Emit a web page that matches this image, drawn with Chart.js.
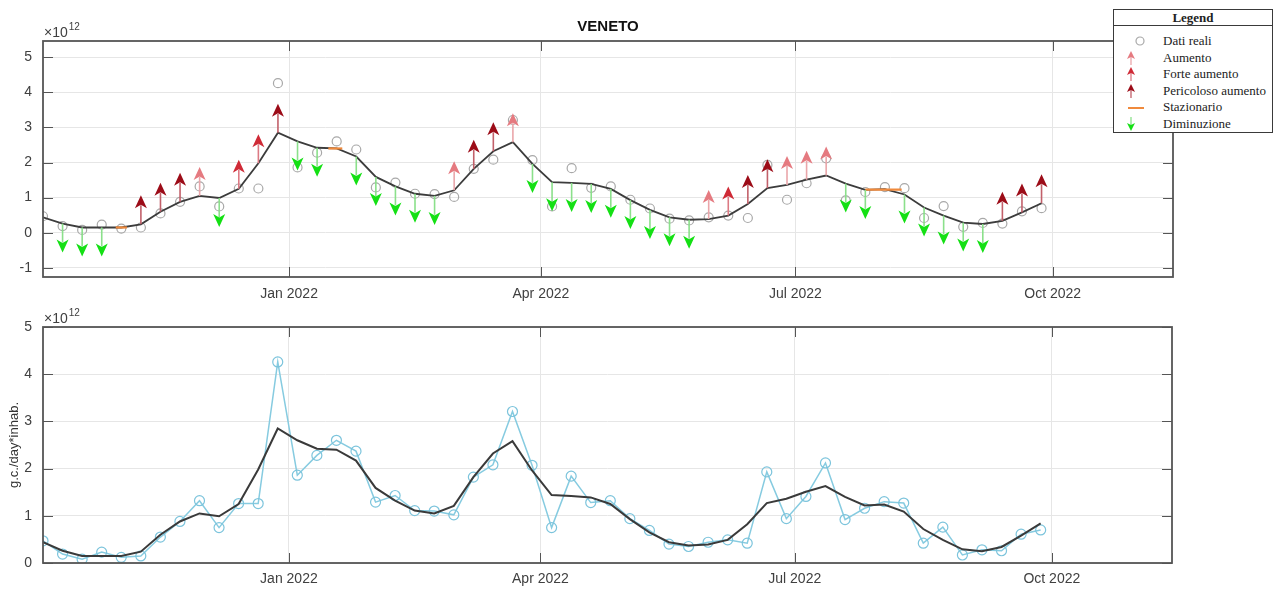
<!DOCTYPE html>
<html>
<head>
<meta charset="utf-8">
<script src="https://cdn.jsdelivr.net/npm/chart.js@4.4.0/dist/chart.umd.min.js"></script>
<style>
  html, body { margin: 0; padding: 0; background: #fff; }
  body { width: 1281px; height: 589px; position: relative; overflow: hidden; }
  #topChart { position: absolute; left: 0; top: 0; }
  #bottomChart { position: absolute; left: 0; top: 305px; }
  #legend {
    position: absolute; left: 1113px; top: 9px; width: 160px; height: 124px;
    box-sizing: border-box; border: 1.5px solid #3a3a3a; background: #fff;
    font-family: "Liberation Serif", "Times New Roman", serif; font-size: 13px; color: #222;
  }
  #legend .head { height: 15px; line-height: 16px; text-align: center; font-weight: bold; border-bottom: 1px solid #3a3a3a; }
  #legend .row { position: absolute; left: 0; height: 16px; line-height: 16px; width: 100%; }
  #legend .row svg { position: absolute; left: 8px; top: 0; }
  #legend .row span { position: absolute; left: 49px; white-space: nowrap; }
</style>
</head>
<body>
<canvas id="topChart" width="1281" height="305"></canvas>
<canvas id="bottomChart" width="1281" height="284"></canvas>
<div id="legend"></div>
<script>
// weekly sampling dates
const weekDates = [
  "2021-10-05", "2021-10-12", "2021-10-19", "2021-10-26", "2021-11-02", "2021-11-09",
  "2021-11-16", "2021-11-23", "2021-11-30", "2021-12-07", "2021-12-14", "2021-12-21",
  "2021-12-28", "2022-01-04", "2022-01-11", "2022-01-18", "2022-01-25", "2022-02-01",
  "2022-02-08", "2022-02-15", "2022-02-22", "2022-03-01", "2022-03-08", "2022-03-15",
  "2022-03-22", "2022-03-29", "2022-04-05", "2022-04-12", "2022-04-19", "2022-04-26",
  "2022-05-03", "2022-05-10", "2022-05-17", "2022-05-24", "2022-05-31", "2022-06-07",
  "2022-06-14", "2022-06-21", "2022-06-28", "2022-07-05", "2022-07-12", "2022-07-19",
  "2022-07-26", "2022-08-02", "2022-08-09", "2022-08-16", "2022-08-23", "2022-08-30",
  "2022-09-06", "2022-09-13", "2022-09-20", "2022-09-27"
];

// measured values (x 10^12 g.c./day*inhab.)
const realValues = [
  0.47, 0.19, 0.08, 0.23, 0.12, 0.15, 0.55, 0.88, 1.32, 0.75, 1.26, 1.26,
  4.26, 1.86, 2.28, 2.60, 2.37, 1.29, 1.43, 1.11, 1.10, 1.02, 1.82, 2.08,
  3.21, 2.07, 0.75, 1.84, 1.28, 1.32, 0.94, 0.69, 0.40, 0.35, 0.44, 0.49,
  0.42, 1.93, 0.94, 1.41, 2.12, 0.92, 1.16, 1.30, 1.27, 0.42, 0.76, 0.17,
  0.28, 0.26, 0.61, 0.70
];

// smoothed trend (x 10^12)
const trendValues = [
  0.44, 0.26, 0.15, 0.15, 0.15, 0.24, 0.60, 0.88, 1.05, 0.99, 1.25, 1.98,
  2.85, 2.60, 2.42, 2.40, 2.17, 1.59, 1.32, 1.11, 1.05, 1.21, 1.82, 2.32,
  2.58, 1.96, 1.44, 1.42, 1.39, 1.25, 0.93, 0.65, 0.44, 0.37, 0.39, 0.49,
  0.82, 1.27, 1.36, 1.51, 1.63, 1.40, 1.22, 1.24, 1.09, 0.72, 0.49, 0.29,
  0.25, 0.34, 0.58, 0.84
];

// trend class: D diminuzione, S stazionario, A aumento, F forte aumento, P pericoloso aumento
const trendStatus = [
  "",  "D", "D", "D", "S", "P", "P", "P", "A", "D", "F", "F",
  "P", "D", "D", "S", "D", "D", "D", "D", "D", "A", "P", "P",
  "A", "D", "D", "D", "D", "D", "D", "D", "D", "D", "A", "F",
  "P", "P", "A", "A", "A", "D", "D", "S", "D", "D", "D", "D",
  "D", "P", "P", "P"
];

const stationaryFrom = ["2021-10-31", "2022-01-15", "2022-07-26"];
const stationaryTo = ["2021-11-04", "2022-01-20", "2022-08-08"];
const stationaryLevel = [0.15, 2.40, 1.23];

const xRange = ["2021-10-05", "2022-11-13"];
const xTickDates = ["2022-01-01", "2022-04-01", "2022-07-01", "2022-10-01"];
const xTickLabels = ["Jan 2022", "Apr 2022", "Jul 2022", "Oct 2022"];
const topYTicks = [-1, 0, 1, 2, 3, 4, 5];
const bottomYTicks = [0, 1, 2, 3, 4, 5];

const legendLabels = ["Dati reali", "Aumento", "Forte aumento", "Pericoloso aumento", "Stazionario", "Diminuzione"];

// styles
const FONT = '"Liberation Sans", Arial, Helvetica, sans-serif';
const TEXT = "#404040";
const FRAME = "#555555";
const GRID = "#e6e6e6";
const arrowStyles = {
  A: { head: "#e57a80", shaft: "#eaa6aa" },
  F: { head: "#cf2a36", shaft: "#dc7a84" },
  P: { head: "#9c0c18", shaft: "#c2606a" },
  D: { head: "#14e014", shaft: "#8be08b" }
};
const ARROW_LEN = 29, HEAD_LEN = 13, HEAD_W = 12;

const ORIGIN = Date.UTC(2022, 0, 1);
function dayNum(s) {
  const [y, m, d] = s.split("-").map(Number);
  return (Date.UTC(y, m - 1, d) - ORIGIN) / 86400000;
}

const realPoints = weekDates.map((d, i) => ({ x: dayNum(d), y: realValues[i] }));
const trendPoints = weekDates.map((d, i) => ({ x: dayNum(d), y: trendValues[i] }));

// frame, inward ticks and exponent label
const framePlugin = {
  id: "matlabFrame",
  afterDraw(chart) {
    const { ctx, chartArea: a, scales } = chart;
    ctx.save();
    ctx.strokeStyle = FRAME;
    ctx.lineWidth = 1;
    ctx.beginPath();
    scales.y.ticks.forEach(t => {
      const py = Math.round(scales.y.getPixelForValue(t.value)) + 0.5;
      ctx.moveTo(a.left, py); ctx.lineTo(a.left + 10, py);
      ctx.moveTo(a.right, py); ctx.lineTo(a.right - 10, py);
    });
    scales.x.ticks.forEach(t => {
      const px = Math.round(scales.x.getPixelForValue(t.value)) + 0.5;
      ctx.moveTo(px, a.bottom); ctx.lineTo(px, a.bottom - 10);
      ctx.moveTo(px, a.top); ctx.lineTo(px, a.top + 10);
    });
    ctx.stroke();
    ctx.lineWidth = 1.8;
    ctx.strokeRect(a.left, a.top, a.right - a.left, a.bottom - a.top);
    ctx.fillStyle = TEXT;
    ctx.textBaseline = "alphabetic";
    ctx.font = "14px " + FONT;
    ctx.fillText("\u00d710", a.left + 1, a.top - 4);
    const w = ctx.measureText("\u00d710").width;
    ctx.font = "10px " + FONT;
    ctx.fillText("12", a.left + 2 + w, a.top - 11);
    ctx.restore();
  }
};

// trend arrows on the top panel
const arrowPlugin = {
  id: "trendArrows",
  afterDatasetsDraw(chart) {
    const { ctx, scales: { x, y } } = chart;
    ctx.save();
    weekDates.forEach((d, i) => {
      const kind = trendStatus[i];
      const st = arrowStyles[kind];
      if (!st) return;
      const px = x.getPixelForValue(dayNum(d));
      const py = y.getPixelForValue(trendValues[i]);
      const dir = kind === "D" ? 1 : -1;
      const tipY = py + dir * ARROW_LEN;
      const baseY = tipY - dir * HEAD_LEN;
      ctx.strokeStyle = st.shaft;
      ctx.lineWidth = 1.6;
      ctx.beginPath();
      ctx.moveTo(px, py);
      ctx.lineTo(px, baseY + dir * 3);
      ctx.stroke();
      ctx.fillStyle = st.head;
      ctx.beginPath();
      ctx.moveTo(px, tipY);
      ctx.lineTo(px - HEAD_W / 2, baseY);
      ctx.lineTo(px, baseY + dir * 3.5);
      ctx.lineTo(px + HEAD_W / 2, baseY);
      ctx.closePath();
      ctx.fill();
    });
    ctx.restore();
  }
};

function xScale(labelPadding, height) {
  return {
    type: "linear",
    min: dayNum(xRange[0]),
    max: dayNum(xRange[1]),
    afterBuildTicks: s => { s.ticks = xTickDates.map(d => ({ value: dayNum(d) })); },
    afterFit: s => { s.height = height; },
    grid: { color: GRID, drawTicks: false },
    border: { display: false },
    ticks: {
      color: TEXT, font: { size: 14, family: FONT }, padding: labelPadding,
      autoSkip: false, maxRotation: 0,
      callback: (v, i) => xTickLabels[i]
    }
  };
}

function yScale(min, max, tickValues, title) {
  return {
    type: "linear",
    min: min,
    max: max,
    afterBuildTicks: s => { s.ticks = tickValues.map(v => ({ value: v })); },
    afterFit: s => { s.width = 43; },
    grid: { color: GRID, drawTicks: false },
    border: { display: false },
    ticks: { color: TEXT, font: { size: 14, family: FONT }, padding: 11 },
    title: title
      ? { display: true, text: title, color: "#333", font: { size: 13, family: FONT }, padding: { top: 7, bottom: 0 } }
      : { display: false }
  };
}

const common = {
  responsive: false,
  animation: false,
  events: [],
  plugins: { legend: { display: false }, tooltip: { enabled: false } }
};

// top panel
const spanSets = stationaryFrom.map((f, i) => ({
  data: [{ x: dayNum(f), y: stationaryLevel[i] }, { x: dayNum(stationaryTo[i]), y: stationaryLevel[i] }],
  borderColor: "#f08a3c", borderWidth: 2.2, pointRadius: 0, fill: false
}));

new Chart(document.getElementById("topChart"), {
  type: "line",
  data: {
    datasets: [
      ...spanSets,
      { data: trendPoints, borderColor: "#3c3c3c", borderWidth: 1.8, pointRadius: 0, fill: false },
      {
        data: realPoints, showLine: false, pointRadius: 4.5, pointBorderWidth: 1.2,
        pointBorderColor: "#a8a8a8", pointBackgroundColor: "rgba(0,0,0,0)"
      }
    ]
  },
  options: {
    ...common,
    layout: { padding: { left: 0, right: 108, top: 0, bottom: 0 } },
    plugins: {
      ...common.plugins,
      title: {
        display: true, text: "VENETO", fullSize: false, color: "#111",
        font: { size: 15, weight: "bold", family: FONT },
        padding: { top: 18, bottom: 5 }
      }
    },
    scales: { x: xScale(9, 28), y: yScale(-1.26, 5.46, topYTicks, null) }
  },
  plugins: [arrowPlugin, framePlugin]
});

// bottom panel
new Chart(document.getElementById("bottomChart"), {
  type: "line",
  data: {
    datasets: [
      { data: trendPoints, borderColor: "#3a3a3a", borderWidth: 2, pointRadius: 0, fill: false },
      {
        data: realPoints, borderColor: "#86cbe0", borderWidth: 1.5, pointRadius: 5, pointBorderWidth: 1.2,
        pointBorderColor: "#7cc4dc", pointBackgroundColor: "rgba(0,0,0,0)", fill: false
      }
    ]
  },
  options: {
    ...common,
    layout: { padding: { left: 0, right: 109, top: 22, bottom: 0 } },
    scales: { x: xScale(8, 26), y: yScale(0, 5, bottomYTicks, "g.c./day*inhab.") }
  },
  plugins: [framePlugin]
});

// legend box
function legendIcon(i) {
  if (i === 0) return '<svg width="34" height="16"><circle cx="18" cy="8" r="4" fill="none" stroke="#a8a8a8" stroke-width="1.2"/></svg>';
  if (i === 4) return '<svg width="34" height="16"><line x1="6" y1="9" x2="22" y2="9" stroke="#f08a3c" stroke-width="2"/></svg>';
  const st = i === 5 ? arrowStyles.D : [null, arrowStyles.A, arrowStyles.F, arrowStyles.P][i];
  if (i === 5) {
    return '<svg width="34" height="16"><line x1="9" y1="1" x2="9" y2="9" stroke="' + st.shaft + '" stroke-width="1.3"/>' +
      '<polygon points="9,15 5,7 9,9 13,7" fill="' + st.head + '"/></svg>';
  }
  return '<svg width="34" height="16"><line x1="9" y1="15" x2="9" y2="7" stroke="' + st.shaft + '" stroke-width="1.3"/>' +
    '<polygon points="9,1 5,9 9,7 13,9" fill="' + st.head + '"/></svg>';
}
const legendBox = document.getElementById("legend");
let html = '<div class="head">Legend</div>';
legendLabels.forEach((lab, i) => {
  html += '<div class="row" style="top:' + (23 + i * 16.6) + 'px">' + legendIcon(i) + '<span>' + lab + '</span></div>';
});
legendBox.innerHTML = html;
</script>
</body>
</html>
